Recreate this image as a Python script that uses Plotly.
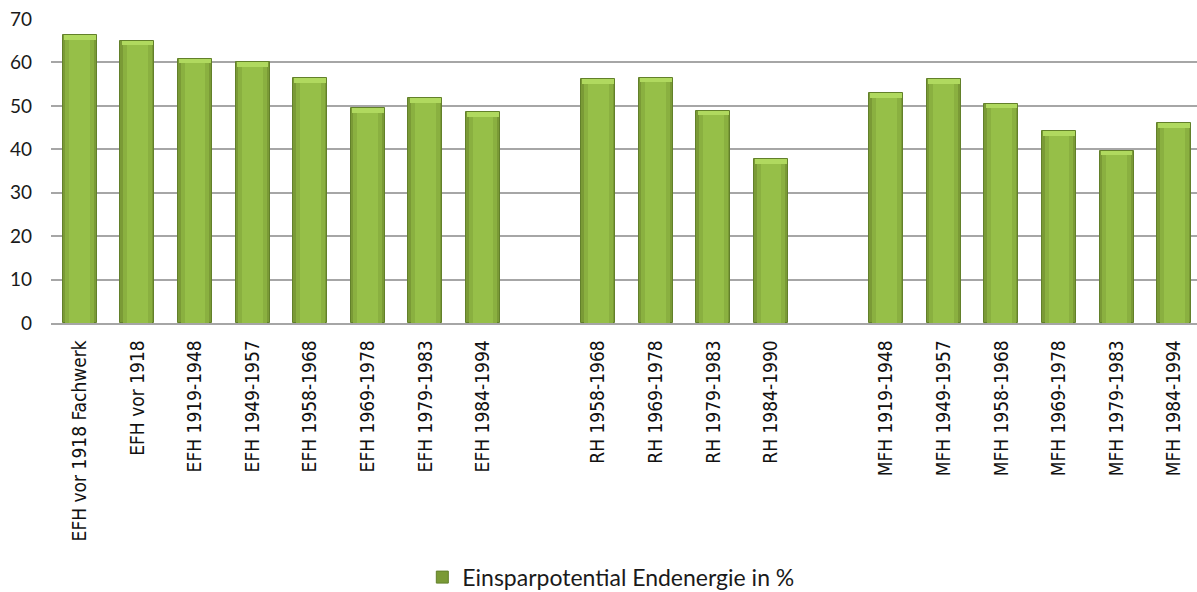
import plotly.graph_objects as go

# Einsparpotential Endenergie je Gebäudetyp und Baualtersklasse (%)
efh_labels = ["EFH vor 1918 Fachwerk", "EFH vor 1918", "EFH 1919-1948", "EFH 1949-1957",
              "EFH 1958-1968", "EFH 1969-1978", "EFH 1979-1983", "EFH 1984-1994"]
efh_values = [66.3, 65.0, 60.9, 60.1, 56.4, 49.5, 51.7, 48.6]

rh_labels = ["RH 1958-1968", "RH 1969-1978", "RH 1979-1983", "RH 1984-1990"]
rh_values = [56.1, 56.5, 48.9, 37.7]

mfh_labels = ["MFH 1919-1948", "MFH 1949-1957", "MFH 1958-1968", "MFH 1969-1978",
              "MFH 1979-1983", "MFH 1984-1994"]
mfh_values = [52.9, 56.1, 50.5, 44.1, 39.7, 46.0]

y_ticks = [0, 10, 20, 30, 40, 50, 60, 70]
series_name = "Einsparpotential Endenergie in %"

# slot positions: one empty slot between building-type groups
labels, values, xpos = [], [], []
slot = 0
for grp_labels, grp_values in [(efh_labels, efh_values), (rh_labels, rh_values), (mfh_labels, mfh_values)]:
    for lab, val in zip(grp_labels, grp_values):
        labels.append(lab)
        values.append(val)
        xpos.append(slot)
        slot += 1
    slot += 1

fig = go.Figure()

# shaded bar body: darker outer column, lighter inner columns
fig.add_trace(go.Bar(x=xpos, y=values, width=0.59, name=series_name,
                     marker=dict(color="#7a9a36", line=dict(color="#62802a", width=1)),
                     showlegend=True, hoverinfo="skip"))
fig.add_trace(go.Bar(x=xpos, y=values, width=0.50, marker=dict(color="#8ab040", line=dict(width=0)),
                     showlegend=False, hoverinfo="skip"))
fig.add_trace(go.Bar(x=xpos, y=values, width=0.36, marker=dict(color="#96bf48", line=dict(width=0)),
                     showlegend=False, hoverinfo="skip"))
# light bevel at the top of each bar
cap = 1.1
fig.add_trace(go.Bar(x=xpos, y=[cap] * len(values), base=[v - cap for v in values], width=0.55,
                     marker=dict(color="#b0d95f", line=dict(width=0)),
                     showlegend=False, hoverinfo="skip"))

fig.update_layout(
    width=1197, height=592,
    margin=dict(l=51, r=0, t=19, b=268.5, autoexpand=False),
    paper_bgcolor="white", plot_bgcolor="white",
    barmode="overlay", bargap=0,
    showlegend=True,
    legend=dict(orientation="h", x=0.4885, xanchor="center", xref="paper",
                y=-0.836, yanchor="middle",
                font=dict(family="Lato", size=23, color="#1a1a1a"),
                itemwidth=30, traceorder="normal"),
    xaxis=dict(
        range=[-0.5, 19.396],
        tickmode="array", tickvals=xpos, ticktext=labels,
        tickangle=-90,
        tickfont=dict(family="DejaVu Sans Condensed, DejaVu Sans", size=19, color="#111111"),
        showgrid=False, zeroline=False,
        showline=True, linecolor="#a6a6a6", linewidth=1.5,
        ticks="", ticklabelstandoff=8,
        automargin=False,
    ),
    yaxis=dict(
        range=[0, 70],
        tickmode="array", tickvals=y_ticks,
        tickfont=dict(family="Lato", size=19, color="#1a1a1a"),
        showgrid=True, gridcolor="#a6a6a6", gridwidth=1.5,
        zeroline=False, showline=False, ticks="",
        ticklabelstandoff=18,
        automargin=False,
    ),
)

fig.write_html("out.html")
